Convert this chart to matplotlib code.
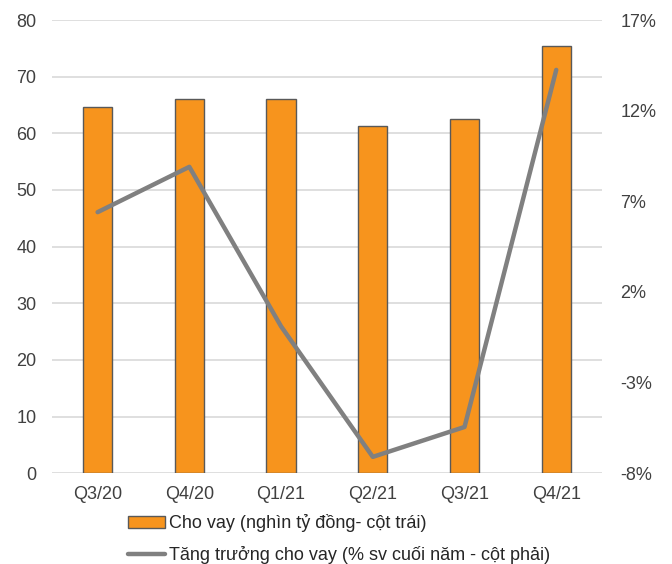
import matplotlib.pyplot as plt
import matplotlib.ticker as mticker
import numpy as np

plt.rcParams['font.family'] = ['Liberation Sans', 'DejaVu Sans']

quarters = ["Q3/20", "Q4/20", "Q1/21", "Q2/21", "Q3/21", "Q4/21"]
loans = [64.6, 66.0, 66.0, 61.3, 62.5, 75.5]          # nghìn tỷ đồng
growth = [6.4, 8.9, 0.1, -7.1, -5.45, 14.25]          # % so với cuối năm

x = np.arange(len(quarters))

fig = plt.figure(figsize=(6.72, 5.64), dpi=100)
ax = fig.add_axes([0.077, 0.161, 0.819, 0.8035])
ax2 = ax.twinx()

ax.bar(x, loans, width=0.32, color="#F7941D", edgecolor="#595959", linewidth=1,
       label="Cho vay (nghìn tỷ đồng- cột trái)", zorder=3)
ax2.plot(x, growth, color="#808080", linewidth=3.2, solid_capstyle="round",
         label="Tăng trưởng cho vay (% sv cuối năm - cột phải)")

ax.set_xlim(-0.5, len(quarters) - 0.5)
ax.set_ylim(0, 80)
ax.set_yticks(range(0, 81, 10))
ax2.set_ylim(-8, 17)
ax2.set_yticks([-8, -3, 2, 7, 12, 17])
ax2.yaxis.set_major_formatter(mticker.FuncFormatter(lambda v, p: f"{v:.0f}%"))

ax.set_xticks(x)
ax.set_xticklabels(quarters)
ax.grid(axis="y", color="#d9d9d9", linewidth=1.2, zorder=0)
ax.set_axisbelow(True)

for a in (ax, ax2):
    for s in a.spines.values():
        s.set_visible(False)
    a.tick_params(length=0, labelsize=13, colors="#404040")
ax.tick_params(axis="x", pad=9)
ax.tick_params(axis="y", pad=11)
ax2.tick_params(axis="y", pad=13)

h1, l1 = ax.get_legend_handles_labels()
h2, l2 = ax2.get_legend_handles_labels()
fig.legend(h1 + h2, l1 + l2, loc="upper left", bbox_to_anchor=(0.19, 0.088),
           frameon=False, fontsize=13, handlelength=2.05, handletextpad=0.25,
           labelspacing=0.75, borderpad=0, borderaxespad=0, labelcolor="#262626")

fig.savefig("out.png", dpi=100)
